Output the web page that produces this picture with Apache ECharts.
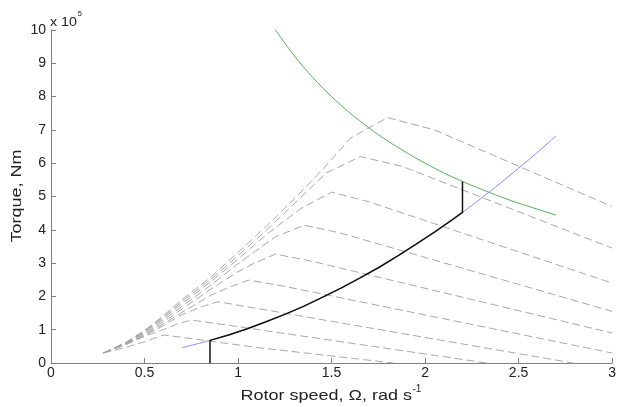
<!DOCTYPE html>
<html>
<head>
<meta charset="utf-8">
<script src="https://cdn.jsdelivr.net/npm/echarts@6/dist/echarts.min.js"></script>
<style>
html,body{margin:0;padding:0;background:#fff;}
#chart{width:619px;height:407px;}
</style>
</head>
<body>
<div id="chart"></div>
<script>
// Axis ranges (rotor speed in rad/s, torque in 1e5 Nm)
const xRange = [0, 3, 0.5];
const yRange = [0, 10, 1];

// Grey dashed torque-speed curves (one per wind speed), [speed, torque x1e5]
const curve1 = [[0.28,0.30],[0.40,0.47],[0.50,0.64],[0.56,0.76],[0.604,0.84],[0.78,0.71],[1.11,0.46],[1.83,0.00]];
const curve2 = [[0.28,0.30],[0.40,0.55],[0.50,0.80],[0.60,1.00],[0.68,1.18],[0.751,1.29],[0.94,1.14],[2.33,0.00]];
const curve3 = [[0.28,0.30],[0.40,0.56],[0.50,0.82],[0.60,1.12],[0.70,1.45],[0.81,1.70],[0.893,1.84],[1.08,1.66],[2.79,0.00]];
const curve4 = [[0.28,0.30],[0.40,0.57],[0.50,0.85],[0.60,1.17],[0.70,1.52],[0.85,2.02],[0.95,2.27],[1.058,2.49],[1.25,2.30],[3.00,0.30]];
const curve5 = [[0.28,0.30],[0.40,0.58],[0.50,0.88],[0.60,1.23],[0.70,1.62],[0.85,2.20],[1.00,2.74],[1.08,2.98],[1.20,3.27],[1.40,3.05],[3.00,0.90]];
const curve6 = [[0.28,0.30],[0.40,0.59],[0.50,0.91],[0.60,1.29],[0.70,1.70],[0.85,2.32],[1.00,2.98],[1.20,3.79],[1.354,4.14],[1.55,3.90],[3.00,1.55]];
const curve7 = [[0.28,0.30],[0.40,0.60],[0.50,0.94],[0.60,1.34],[0.70,1.78],[0.85,2.42],[1.00,3.12],[1.15,3.85],[1.336,4.64],[1.50,5.13],[1.70,4.84],[3.00,2.40]];
const curve8 = [[0.28,0.30],[0.40,0.61],[0.50,0.96],[0.60,1.38],[0.70,1.84],[0.85,2.49],[1.00,3.22],[1.15,3.98],[1.30,4.78],[1.47,5.70],[1.655,6.20],[1.88,5.90],[3.00,3.45]];
const curve9 = [[0.28,0.30],[0.40,0.62],[0.50,0.98],[0.60,1.42],[0.70,1.90],[0.85,2.56],[1.00,3.32],[1.15,4.10],[1.30,4.92],[1.45,5.80],[1.60,6.75],[1.80,7.37],[2.05,7.00],[3.00,4.70]];

// Green: rated power limit
const powerLimit = [[1.20,10.00],[1.30,9.23],[1.40,8.57],[1.50,8.00],[1.60,7.50],[1.70,7.06],[1.80,6.67],[1.90,6.32],[2.00,6.00],[2.10,5.71],[2.20,5.45],[2.30,5.22],[2.40,5.00],[2.50,4.80],[2.60,4.62],[2.70,4.44]];
// Blue: optimal tip-speed-ratio curve
const optimalCurve = [[0.70,0.46],[0.85,0.68],[1.00,0.94],[1.20,1.35],[1.40,1.83],[1.60,2.39],[1.80,3.03],[2.00,3.74],[2.20,4.52],[2.40,5.39],[2.60,6.32],[2.70,6.82]];
// Black: controller operating path
const controlPath = [[0.85,0.00],[0.85,0.68],[0.95,0.84],[1.05,1.03],[1.15,1.24],[1.25,1.46],[1.35,1.70],[1.45,1.97],[1.55,2.25],[1.65,2.55],[1.75,2.86],[1.85,3.20],[1.95,3.56],[2.05,3.93],[2.15,4.32],[2.20,4.52],[2.20,5.45]];

const dashedCurves = [curve1, curve2, curve3, curve4, curve5, curve6, curve7, curve8, curve9];

const FONT = "'Liberation Sans', Arial, Helvetica, sans-serif";
const AXIS_GREY = '#808080';
const TEXT = '#222222';

const series = [];
dashedCurves.forEach(function (c, i) {
  series.push({
    type: 'line', name: 'curve' + (i + 1), data: c,
    showSymbol: false, symbol: 'none', silent: true,
    lineStyle: { color: '#a8a8a8', width: 1, type: [8, 4] },
    z: 2
  });
});
series.push({ type: 'line', name: 'power', data: powerLimit, showSymbol: false, symbol: 'none', smooth: 0.3,
  lineStyle: { color: '#55b055', width: 1 }, z: 3 });
series.push({ type: 'line', name: 'optimal', data: optimalCurve, showSymbol: false, symbol: 'none', smooth: 0.3,
  lineStyle: { color: '#8a8aff', width: 1 }, z: 4 });
series.push({ type: 'line', name: 'control', data: controlPath, showSymbol: false, symbol: 'none',
  lineStyle: { color: '#111111', width: 1.5 }, z: 5 });

const chart = echarts.init(document.getElementById('chart'), null, { renderer: 'canvas' });
chart.setOption({
  animation: false,
  backgroundColor: '#ffffff',
  grid: { left: 51, right: 5, top: 30, bottom: 44 },
  xAxis: {
    type: 'value', min: xRange[0], max: xRange[1], interval: xRange[2],
    axisLine: { show: true, lineStyle: { color: AXIS_GREY, width: 1 } },
    axisTick: { show: true, inside: true, length: 5, lineStyle: { color: AXIS_GREY } },
    axisLabel: { color: TEXT, fontSize: 14, fontFamily: FONT, margin: 3, showMinLabel: true, showMaxLabel: true },
    splitLine: { show: false }
  },
  yAxis: {
    type: 'value', min: yRange[0], max: yRange[1], interval: yRange[2],
    axisLine: { show: true, lineStyle: { color: AXIS_GREY, width: 1 } },
    axisTick: { show: true, inside: true, length: 5, lineStyle: { color: AXIS_GREY } },
    axisLabel: { color: TEXT, fontSize: 14, fontFamily: FONT, margin: 5, showMinLabel: true, showMaxLabel: true },
    splitLine: { show: false }
  },
  graphic: [
    { type: 'text', x: 17, y: 196, rotation: Math.PI / 2, scaleX: 1.2, silent: true,
      style: { text: 'Torque, Nm', fontSize: 15, fontFamily: FONT, fill: TEXT, align: 'center', verticalAlign: 'middle' } },
    { type: 'text', x: 412, y: 396, scaleX: 1.2, silent: true,
      style: { text: 'Rotor speed, \u03A9, rad s', fontSize: 15, fontFamily: FONT, fill: TEXT, align: 'right', verticalAlign: 'middle' } },
    { type: 'text', x: 412.5, y: 384, silent: true,
      style: { text: '-1', fontSize: 10, fontFamily: FONT, fill: TEXT, align: 'left', verticalAlign: 'top' } },
    { type: 'text', x: 50, y: 22.5, scaleX: 1.1, silent: true,
      style: { text: 'x 10', fontSize: 13, fontFamily: FONT, fill: TEXT, align: 'left', verticalAlign: 'middle' } },
    { type: 'text', x: 77.5, y: 10, silent: true,
      style: { text: '5', fontSize: 8, fontFamily: FONT, fill: TEXT, align: 'left', verticalAlign: 'top' } }
  ],
  series: series
});
</script>
</body>
</html>
